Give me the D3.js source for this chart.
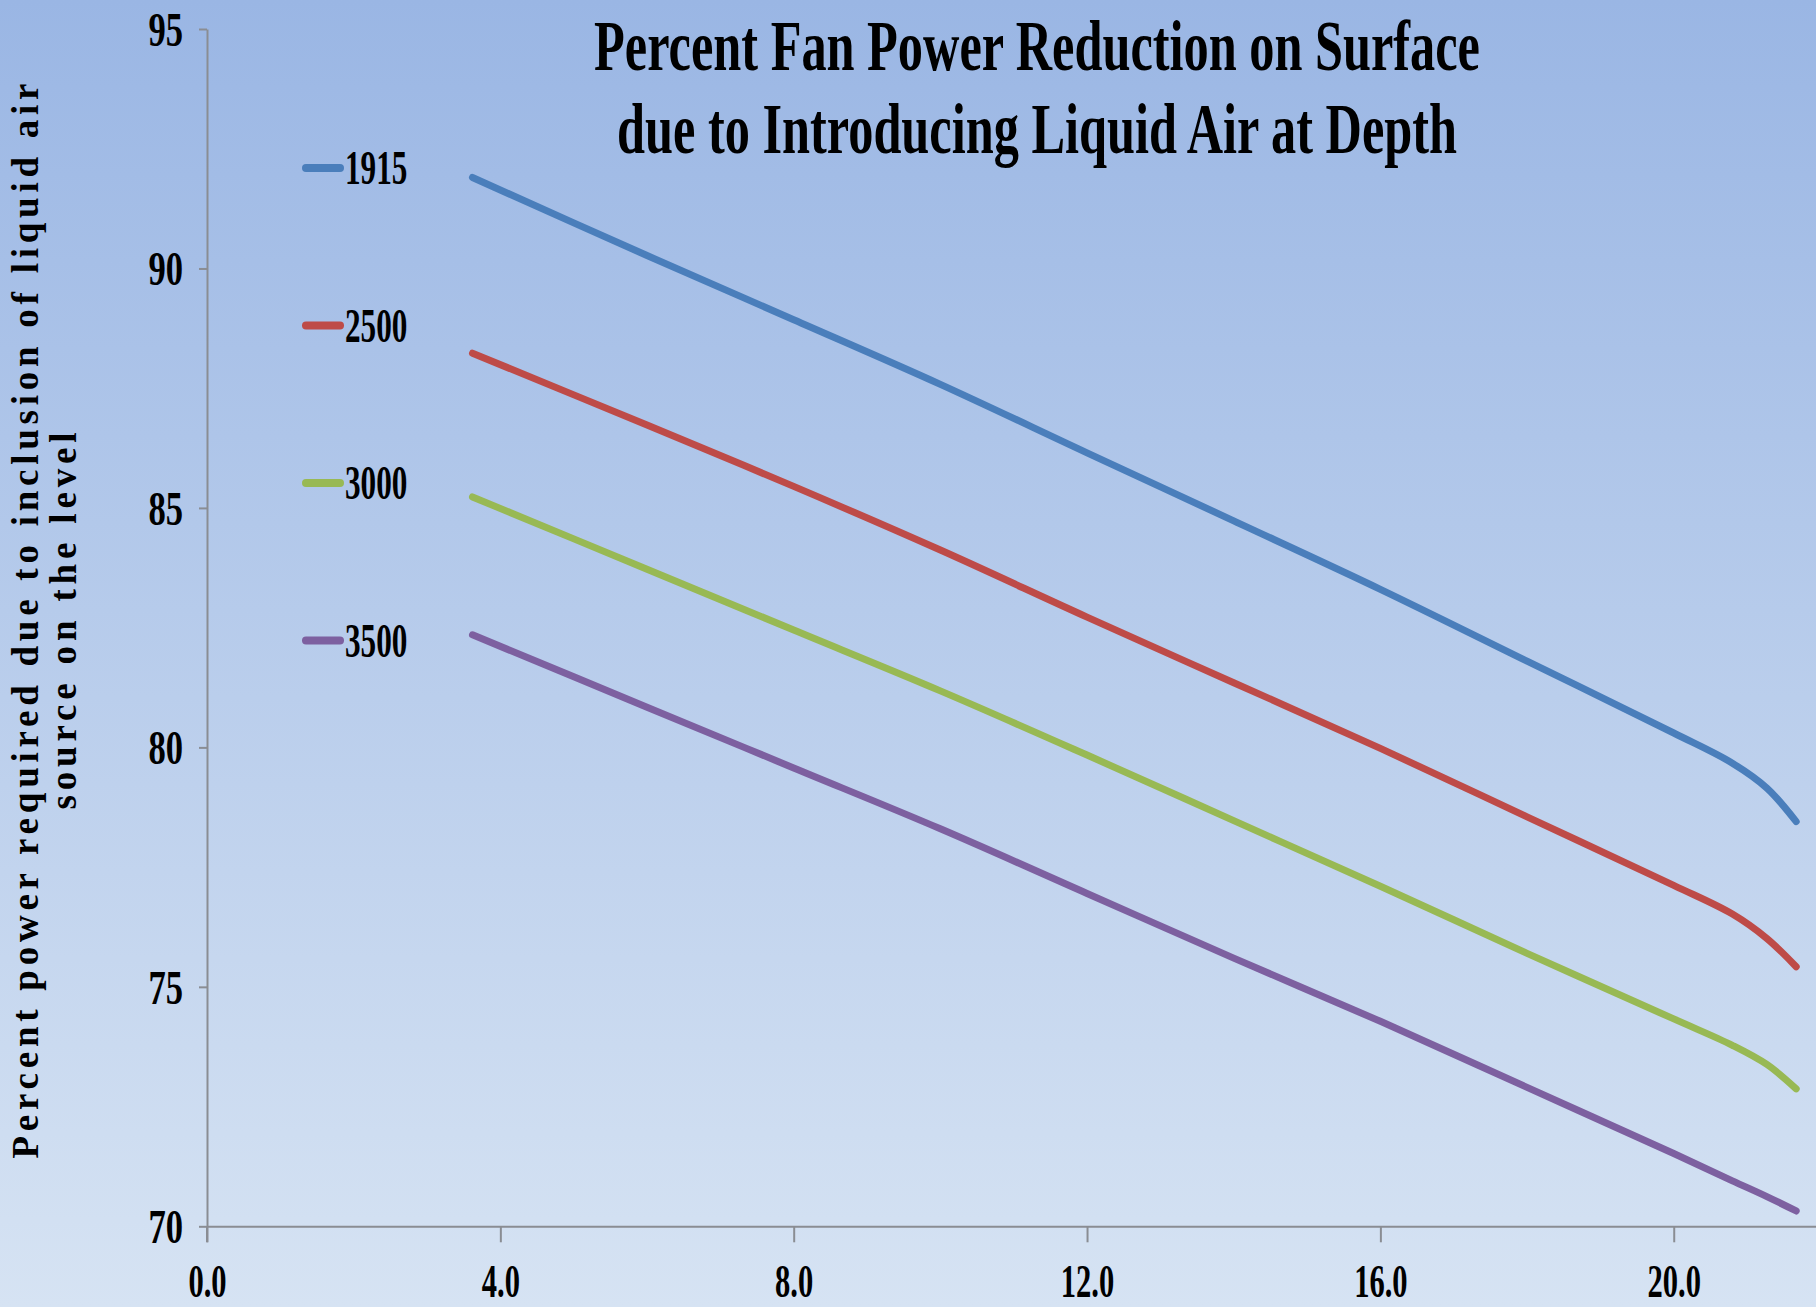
<!DOCTYPE html>
<html lang="en">
	<head>
		<meta charset="utf-8">
		<title>Percent Fan Power Reduction on Surface</title>
		<script src="https://cdn.jsdelivr.net/npm/d3@7"></script>
		<style type="text/css">
			body {
				margin: 0;
				padding: 0;
			}
			svg {
				display: block;
			}
			text {
				font-family: "Liberation Serif", "Times New Roman", serif;
				fill: #000;
			}
			.axis path, .axis line {
				stroke: #8a8d93;
				stroke-width: 2;
			}
		</style>
	</head>
	<body>
		<script>

			//Data
			var depths = [3.62, 6, 8, 10, 12, 14, 16, 18, 20, 20.8, 21.27, 21.67];
			var series1915 = [91.90, 90.27, 88.93, 87.58, 86.15, 84.73, 83.30, 81.80, 80.30, 79.67, 79.15, 78.45];
			var series2500 = [88.23, 86.73, 85.45, 84.12, 82.72, 81.35, 79.98, 78.55, 77.12, 76.52, 76.01, 75.42];
			var series3000 = [85.23, 83.72, 82.45, 81.18, 79.84, 78.47, 77.10, 75.70, 74.33, 73.78, 73.38, 72.87];
			var series3500 = [82.35, 80.84, 79.57, 78.30, 76.95, 75.60, 74.28, 72.90, 71.52, 70.95, 70.62, 70.32];
			var seriesNames = ["1915", "2500", "3000", "3500"];
			var xTicks = [0, 4, 8, 12, 16, 20];
			var yTicks = [70, 75, 80, 85, 90, 95];

			var allSeries = [series1915, series2500, series3000, series3500];
			var colors = ["#4a7ebb", "#be4b48", "#98b954", "#7d60a0"];

			//Width and height
			var w = 1816;
			var h = 1307;
			var squeeze = 0.65;		//the serif labels in the picture are narrow

			//Create scale functions
			var xScale = d3.scaleLinear()
								 .domain([0, 21.94])
								 .range([207, w]);

			var yScale = d3.scaleLinear()
								 .domain([70, 95])
								 .range([1226.3, 29]);

			//Create SVG element
			var svg = d3.select("body")
						.append("svg")
						.attr("width", w)
						.attr("height", h);

			//Background gradient
			var grad = svg.append("defs")
				.append("linearGradient")
				.attr("id", "bg")
				.attr("x1", 0).attr("y1", 0)
				.attr("x2", 0).attr("y2", 1);
			grad.append("stop").attr("offset", "0%").attr("stop-color", "#9ab6e4");
			grad.append("stop").attr("offset", "100%").attr("stop-color", "#d6e3f3");

			svg.append("rect")
				.attr("width", w)
				.attr("height", h)
				.attr("fill", "url(#bg)");

			//Define X axis
			var xAxis = d3.axisBottom()
							  .scale(xScale)
							  .tickValues(xTicks)
							  .tickSize(16)
							  .tickSizeOuter(0)
							  .tickFormat(d3.format(".1f"));

			//Define Y axis
			var yAxis = d3.axisLeft()
							  .scale(yScale)
							  .tickValues(yTicks)
							  .tickSize(8)
							  .tickSizeOuter(0)
							  .tickFormat(d3.format("d"));

			//Create X axis
			var gx = svg.append("g")
				.attr("class", "axis")
				.attr("transform", "translate(0," + yScale(70) + ")")
				.call(xAxis);

			gx.selectAll("text")
				.attr("y", 0)
				.attr("dy", 0)
				.attr("transform", "translate(0,71) scale(" + squeeze + ",1)")
				.style("font-size", "47px")
				.style("font-weight", "bold");

			//Create Y axis
			var gy = svg.append("g")
				.attr("class", "axis")
				.attr("transform", "translate(" + xScale(0) + ",0)")
				.call(yAxis);

			gy.selectAll("text")
				.attr("x", 0)
				.attr("dy", "0.34em")
				.attr("transform", "translate(-24,0) scale(0.72,1)")
				.style("font-size", "48px")
				.style("font-weight", "bold");

			//y axis line also runs down to the x tick length
			gy.append("line")
				.attr("x1", 0).attr("x2", 0)
				.attr("y1", yScale(70)).attr("y2", yScale(70) + 16);

			//Create lines
			var line = d3.line()
				.x(function(d, i) { return xScale(depths[i]); })
				.y(function(d) { return yScale(d); })
				.curve(d3.curveCatmullRom.alpha(0.5));

			svg.selectAll(".series")
				.data(allSeries)
				.enter()
				.append("path")
				.attr("class", "series")
				.attr("d", line)
				.attr("fill", "none")
				.attr("stroke", function(d, i) { return colors[i]; })
				.attr("stroke-width", 7)
				.attr("stroke-linecap", "round")
				.attr("stroke-linejoin", "round");

			//Legend
			var legendY = [168, 325.5, 483, 640.5];
			var legend = svg.selectAll(".legend")
				.data(seriesNames)
				.enter()
				.append("g")
				.attr("class", "legend")
				.attr("transform", function(d, i) { return "translate(306," + legendY[i] + ")"; });

			legend.append("line")
				.attr("x1", 0).attr("x2", 34)
				.attr("stroke", function(d, i) { return colors[i]; })
				.attr("stroke-width", 8)
				.attr("stroke-linecap", "round");

			legend.append("text")
				.attr("transform", "translate(39,0) scale(" + squeeze + ",1)")
				.attr("dy", "0.34em")
				.style("font-size", "48px")
				.style("font-weight", "bold")
				.text(function(d) { return d; });

			//Title, squeezed to the width it has in the picture
			var titleLines = ["Percent Fan Power Reduction on Surface", "due to Introducing Liquid Air at Depth"];
			var titleBase = [70, 153];
			var titleWidth = [886, 840];
			svg.selectAll(".title")
				.data(titleLines)
				.enter()
				.append("text")
				.attr("class", "title")
				.attr("text-anchor", "middle")
				.style("font-size", "72px")
				.style("font-weight", "bold")
				.text(function(d) { return d; })
				.attr("transform", function(d, i) {
					var k = titleWidth[i] / this.getComputedTextLength();
					return "translate(1037," + titleBase[i] + ") scale(" + k + ",1)";
				});

			//Y axis title, two lines, rotated
			var yTitle = ["Percent power required due to inclusion of liquid air", "source on the level"];
			var yTitleBase = [38, 76];
			var yTitleWidth = [1075, 377];
			svg.selectAll(".ytitle")
				.data(yTitle)
				.enter()
				.append("text")
				.attr("class", "ytitle")
				.attr("transform", "rotate(-90)")
				.attr("x", -621)
				.attr("y", function(d, i) { return yTitleBase[i]; })
				.attr("text-anchor", "middle")
				.attr("textLength", function(d, i) { return yTitleWidth[i]; })
				.attr("lengthAdjust", "spacing")
				.style("font-size", "37px")
				.style("font-weight", "bold")
				.text(function(d) { return d; });

		</script>
	</body>
</html>
